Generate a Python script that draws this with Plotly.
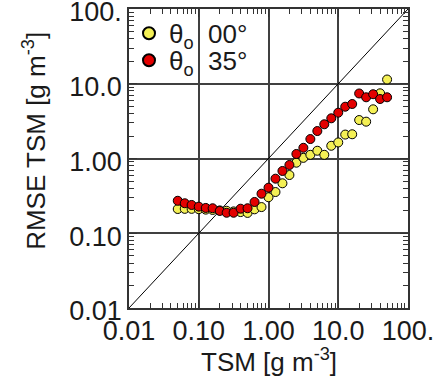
import plotly.graph_objects as go

# TSM bin centres (log spaced in the picture)
tsm = [0.050, 0.063, 0.079, 0.100, 0.126, 0.158, 0.200, 0.251, 0.316, 0.398,
       0.501, 0.631, 0.794, 1.000, 1.259, 1.585, 1.995, 2.512, 3.162, 3.981,
       5.012, 6.310, 7.943, 10.00, 12.59, 15.85, 19.95, 25.12, 31.62, 39.81, 50.12]

rmse_00 = [0.211, 0.212, 0.212, 0.210, 0.207, 0.205, 0.202, 0.200, 0.196, 0.192,
           0.187, 0.209, 0.224, 0.303, 0.356, 0.466, 0.601, 0.879, 1.02, 1.12,
           1.27, 1.12, 1.48, 1.64, 2.09, 2.11, 3.27, 3.11, 4.55, 7.45, 11.4]

rmse_35 = [0.272, 0.252, 0.239, 0.227, 0.218, 0.216, 0.199, 0.188, 0.188, 0.213,
           0.216, 0.262, 0.338, 0.407, 0.537, 0.681, 0.819, 1.15, 1.39, 1.82,
           2.33, 2.87, 3.45, 4.10, 4.93, 5.36, 7.41, 6.59, 7.24, 6.25, 6.59]

one_to_one = [0.01, 100.0]
tick_vals = [0.01, 0.1, 1, 10, 100]
tick_text = ["0.01", "0.10", "1.00", "10.0", "100."]
minor_vals = [m * 10 ** e for e in (-2, -1, 0, 1) for m in range(2, 10)]

font = "Liberation Sans, Arial, sans-serif"
tcol = "#1a1a1a"

fig = go.Figure()
fig.add_trace(go.Scatter(x=one_to_one, y=one_to_one, mode="lines",
                         line=dict(color="black", width=1), showlegend=False,
                         hoverinfo="skip"))
fig.add_trace(go.Scatter(x=tsm, y=rmse_00, mode="markers",
                         name="θ<sub>o</sub>  00°", legend="legend",
                         marker=dict(size=9, color="#f4f055",
                                     line=dict(color="black", width=1))))
fig.add_trace(go.Scatter(x=tsm, y=rmse_35, mode="markers",
                         name="θ<sub>o</sub>  35°", legend="legend2",
                         marker=dict(size=9, color="#e30000",
                                     line=dict(color="black", width=1))))

axis_common = dict(
    type="log", range=[-2, 2],
    tickmode="array", tickvals=tick_vals, ticktext=tick_text,
    showline=True, linecolor="#333333", linewidth=1.5, mirror="allticks",
    ticks="inside", ticklen=8, tickwidth=1.2, tickcolor="#333333",
    showgrid=True, gridcolor="#404040", gridwidth=1.5,
    zeroline=False, automargin=False, ticklabeloverflow="allow",
    minor=dict(tickmode="array", tickvals=minor_vals,
               ticks="inside", ticklen=5, tickwidth=1, tickcolor="#333333",
               showgrid=False),
    tickfont=dict(family=font, size=27, color=tcol),
)

fig.update_xaxes(**axis_common, ticklabelstandoff=-2)
fig.update_yaxes(**axis_common, ticklabelstandoff=0, ticklabelshift=3)

fig.add_annotation(text="TSM [g m<sup>-3</sup>]", xref="paper", yref="paper",
                   x=0.5, y=-0.176, xanchor="center", yanchor="middle",
                   showarrow=False,
                   font=dict(family=font, size=26, color=tcol))
fig.add_annotation(text="RMSE TSM [g m<sup>-3</sup>]", xref="paper", yref="paper",
                   x=-0.337, y=0.559, xanchor="center", yanchor="middle",
                   textangle=-90, showarrow=False,
                   font=dict(family=font, size=26, color=tcol))

leg_common = dict(x=0.0, xanchor="left", yanchor="top",
                  bgcolor="rgba(0,0,0,0)", borderwidth=0,
                  font=dict(family=font, size=26, color=tcol),
                  itemsizing="constant", itemwidth=30)

fig.update_layout(
    width=437, height=381,
    margin=dict(l=129, r=29, t=9, b=73),
    paper_bgcolor="white", plot_bgcolor="white",
    showlegend=True,
    legend=dict(y=0.997, **leg_common),
    legend2=dict(y=0.907, **leg_common),
)

fig.write_html("out.html", config={"displayModeBar": False},
               post_script="document.body.style.margin='0';")
